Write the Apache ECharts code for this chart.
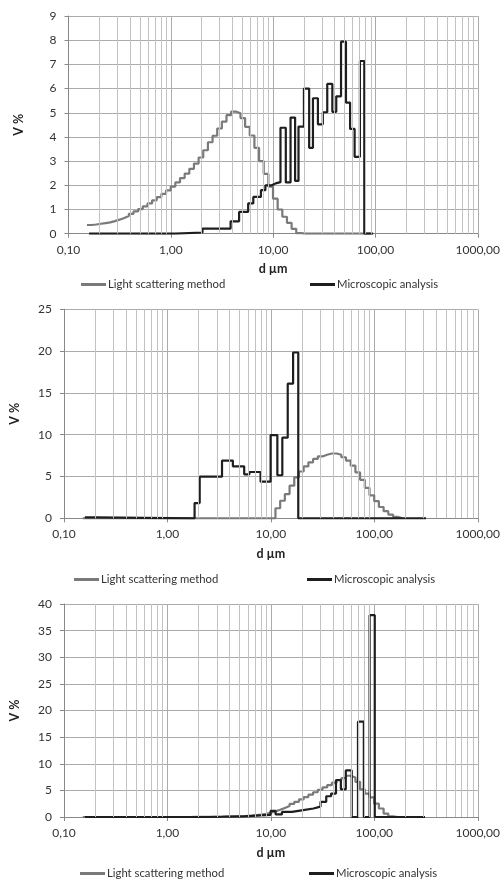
<!DOCTYPE html>
<html>
<head>
<meta charset="utf-8">
<script src="https://cdn.jsdelivr.net/npm/echarts@6/dist/echarts.min.js"></script>
<style>
html,body{margin:0;padding:0;background:#fff;}
#chart{width:503px;height:881px;}
</style>
</head>
<body>
<div id="chart"></div>
<script>
// Light scattering size classes (µm, lower bin edges)
const lsSizes = [0.1516,0.1683,0.1869,0.2075,0.2304,0.2559,0.2841,0.3154,0.3502,0.3889,
0.4318,0.4794,0.5323,0.5911,0.6562,0.7287,0.8090,0.8983,0.9974,1.1074,
1.2297,1.3654,1.516,1.683,1.869,2.075,2.304,2.559,2.841,3.154,
3.502,3.889,4.318,4.794,5.323,5.911,6.562,7.287,8.090,8.983,
9.974,11.07,12.30,13.65,15.16,16.83,18.69,20.75,23.04,25.59,
28.41,31.54,35.02,38.89,43.18,47.94,53.23,59.11,65.62,72.87,
80.90,89.83,99.74,110.7,123.0,136.5,151.6,168.3,186.9,207.5,
230.4,255.9,284.1,315.4];

// Panel 1
const ls1 = [0.36,0.38,0.41,0.44,0.47,0.52,0.58,0.65,0.73,0.82,
0.92,1.02,1.13,1.25,1.38,1.51,1.65,1.79,1.95,2.12,
2.30,2.48,2.68,2.90,3.15,3.45,3.78,4.05,4.35,4.63,
4.90,5.05,4.98,4.78,4.42,4.06,3.55,3.00,2.47,1.95,
1.45,1.00,0.70,0.45,0.20,0.02,0,0,0,0,
0,0,0,0,0,0,0,0,0,0,0];
const micro1Sizes = [0.159,1.11,2.04,3.84,4.65,5.7,6.4,7.6,8.4,9.7,10.6,11.8,13.3,14.8,16.4,17.7,20.0,22.5,24.5,27.4,30.6,33.8,37.9,41.4,46.1,51.5,56.5,62.6,70.5,77.8,95];
const micro1Values = [0,0.05,0.21,0.51,0.9,1.25,1.52,1.8,2.0,2.08,2.13,4.38,2.12,4.8,2.18,4.43,6.0,3.55,5.6,4.52,5.02,6.19,5.04,5.68,7.94,5.42,4.33,3.18,7.14,0,0];

// Panel 2
const ls2 = [0,0,0,0,0,0,0,0,0,0,
0,0,0,0,0,0,0,0,0,0,
0,0,0,0,0,0,0,0,0,0,
0,0,0,0,0,0,0,0,0,0,
0,1.2,2.1,2.9,3.9,4.9,5.6,6.2,6.7,7.1,
7.4,7.6,7.75,7.75,7.6,7.3,6.9,6.3,5.5,4.6,
3.65,2.75,2.05,1.35,0.85,0.45,0.18,0];
const micro2Sizes = [0.159,0.2,1.83,2.05,3.37,4.29,5.52,6.2,7.95,9.94,11.55,12.9,14.55,16.4,18.4,316];
const micro2Values = [0.1,0,1.82,4.98,6.9,6.22,5.26,5.54,4.38,9.96,5.15,9.65,16.1,19.83,0,0];

// Panel 3
const ls3 = [0,0,0,0,0,0,0,0,0,0,
0,0,0,0,0,0,0,0,0,0,
0,0,0,0.02,0.03,0.04,0.05,0.06,0.07,0.08,
0.10,0.12,0.15,0.18,0.22,0.28,0.35,0.45,0.60,0.80,
1.05,1.35,1.70,2.05,2.45,2.85,3.30,3.75,4.20,4.65,
5.10,5.55,6.00,6.45,6.90,7.30,7.75,7.40,6.60,5.20,
4.40,3.70,2.50,1.60,0.65,0.10,0];
const micro3Sizes = [0.159,2.07,3.4,5.5,7.2,9.93,11.1,12.8,16.0,19.8,25.8,30.2,34.3,38.2,42.6,47.5,53,60.5,69.5,79.2,90,101,309];
const micro3Values = [0,0.05,0.12,0.25,0.4,1.15,0.5,0.95,1.25,1.6,1.95,2.85,3.9,4.4,6.95,5.2,8.75,0,17.9,0,37.9,0,0];

const yMax = [9, 25, 40];
const yStep = [1, 5, 5];
const xTickLabels = ['0,10','1,00','10,00','100,00','1000,00'];
const minorGrid = [0.2,0.3,0.4,0.5,0.6,0.7,0.8,0.9,2,3,4,5,6,7,8,9,20,30,40,50,60,70,80,90,200,300,400,500,600,700,800,900];
const LS = 'Light scattering method';
const MA = 'Microscopic analysis';

function lsData(vals){
  const d = vals.map((v,i)=>[lsSizes[i], v]);
  d.push([lsSizes[vals.length], vals[vals.length-1]]);
  return d;
}
function pairData(sizes, vals){ return sizes.map((s,i)=>[s, vals[i]]); }

const grids = [
  {left:68.5, width:414.5, top:16, height:217.7},
  {left:62, width:418, top:309.3, height:209},
  {left:61.3, width:421.4, top:604, height:213}
];
const legendTops = [279, 574, 868];
const legendLeft1 = [81, 74, 80];
const legendLeft2 = [310, 307, 309];

const FONT = 'Lato, "Liberation Sans", sans-serif';
const xAxes = [], yAxes = [], series = [], legends = [];
const lsSets = [ls1, ls2, ls3];
const microSets = [[micro1Sizes, micro1Values],[micro2Sizes, micro2Values],[micro3Sizes, micro3Values]];
const gridLineColor = '#ababab';

for (let i=0;i<3;i++){
  xAxes.push({
    type:'log', logBase:10, min:0.1, max:1000, gridIndex:i,
    name:'d µm', nameLocation:'middle', nameGap:29,
    nameTextStyle:{fontFamily:FONT, fontWeight:'bold', fontSize:12.5, color:'#222'},
    axisLine:{show:true, lineStyle:{color:'#888', width:1}},
    axisTick:{show:true, length:4, lineStyle:{color:'#888'}},
    splitLine:{show:true, lineStyle:{color:gridLineColor, width:1}},
    axisLabel:{fontFamily:FONT, fontSize:12, color:'#333', margin:10,
      formatter:function(v){ const idx = Math.round(Math.log10(v))+1; return xTickLabels[idx] !== undefined ? xTickLabels[idx] : ''; }}
  });
  yAxes.push({
    type:'value', min:0, max:yMax[i], interval:yStep[i], gridIndex:i,
    name:'V %', nameLocation:'middle', nameGap:43,
    nameTextStyle:{fontFamily:FONT, fontWeight:'bold', fontSize:12.5, color:'#222'},
    axisLine:{show:true, lineStyle:{color:'#888', width:1}},
    axisTick:{show:true, length:4, lineStyle:{color:'#888'}},
    splitLine:{show:true, lineStyle:{color:gridLineColor, width:1}},
    axisLabel:{fontFamily:FONT, fontSize:12, color:'#333', margin:12}
  });
  // minor vertical grid lines
  series.push({
    type:'line', xAxisIndex:i, yAxisIndex:i, data:[], silent:true, z:1,
    markLine:{silent:true, symbol:'none', animation:false, label:{show:false},
      lineStyle:{color:'#c2c2c2', width:1, type:'solid'},
      data:minorGrid.map(v=>({xAxis:v}))}
  });
  series.push({
    name:LS, type:'line', step:'end', xAxisIndex:i, yAxisIndex:i,
    data:lsData(lsSets[i]), showSymbol:false, symbol:'none', z:3,
    color:'#7a7a7a', lineStyle:{color:'#7a7a7a', width:2.2}
  });
  series.push({
    name:MA, type:'line', step:'end', xAxisIndex:i, yAxisIndex:i,
    data:pairData(microSets[i][0], microSets[i][1]), showSymbol:false, symbol:'none', z:4,
    color:'#1e1e1e', lineStyle:{color:'#1e1e1e', width:2.2}
  });
  legends.push({data:[LS], left:legendLeft1[i], top:legendTops[i], padding:0, icon:'rect', itemWidth:25, itemHeight:3, itemGap:4,
    textStyle:{fontFamily:FONT, fontSize:11.3, color:'#333', padding:[0,0,0,-3]}, selectedMode:false});
  legends.push({data:[MA], left:legendLeft2[i], top:legendTops[i], padding:0, icon:'rect', itemWidth:25, itemHeight:3, itemGap:4,
    textStyle:{fontFamily:FONT, fontSize:11.3, color:'#333', padding:[0,0,0,-3]}, selectedMode:false});
}

const chart = echarts.init(document.getElementById('chart'), null, {renderer:'canvas'});
chart.setOption({
  animation:false,
  backgroundColor:'#fff',
  grid:grids,
  xAxis:xAxes,
  yAxis:yAxes,
  legend:legends,
  series:series
});
</script>
</body>
</html>
